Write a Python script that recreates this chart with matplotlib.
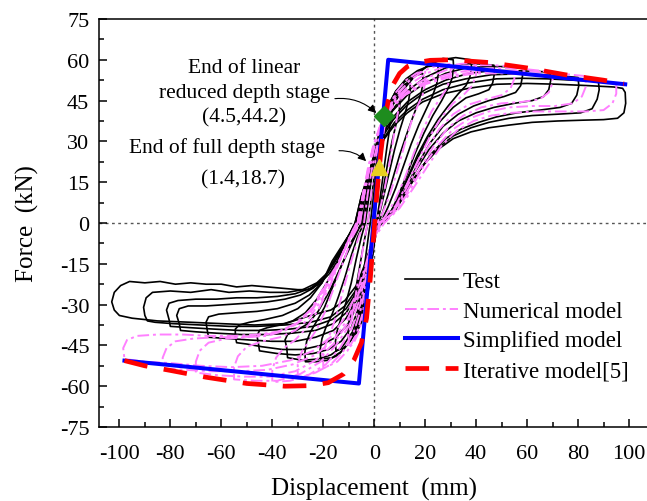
import matplotlib
matplotlib.use("Agg")
import matplotlib.pyplot as plt
from matplotlib.ticker import MultipleLocator

plt.rcParams['font.family'] = ['Liberation Serif', 'DejaVu Serif']
plt.rcParams['axes.unicode_minus'] = False

# ---- test loops, (displacement mm, force kN) ----
test_1 = [(0, 0), (1, 10), (2, 19), (3, 27), (4, 33), (5, 37), (6, 40),
          (6.2, 37), (5.8, 33), (5, 28), (4, 21), (3, 14), (2, 7), (1, 1),
          (0, -6), (-1, -14), (-2, -22), (-3, -28), (-4, -32), (-5, -34.5), (-6, -36),
          (-6.2, -33), (-5.8, -29), (-5, -24), (-4, -17), (-3, -10), (-2, -3), (-1.5, 0)]
test_2 = [(-1.5, 0), (-0.5, 8), (0.5, 16), (1.5, 24), (3, 33), (4.5, 39), (6, 43), (8, 46.5), (10, 48),
          (10.2, 45), (9.8, 41), (8.5, 36), (7, 30), (5.5, 23), (4, 15), (2.5, 7), (1, 0),
          (0, -7), (-1, -15), (-2, -23), (-3.5, -31), (-5, -36.5), (-7, -40.5), (-8.5, -42), (-10, -43),
          (-10.2, -39.5), (-9.7, -35.5), (-8.5, -30), (-7, -23), (-5.5, -15), (-4, -7), (-2.5, 0)]
test_3 = [(-2.5, 0), (-1, 10), (0.5, 20), (2, 29), (4, 37), (6, 43), (8.5, 47.5), (11, 50.5), (14, 52),
          (14.2, 49), (13.5, 45), (12, 40), (10, 34), (8, 27), (6, 19), (4, 11), (2, 3), (1, 0),
          (0, -7), (-1.5, -17), (-3, -26), (-5, -34), (-7, -39.5), (-9.5, -43.5), (-12, -46), (-15, -47),
          (-15.2, -43.5), (-14.5, -39.5), (-13, -35), (-11, -29), (-9, -22), (-7, -13), (-5, -5), (-3.5, 0)]
test_4 = [(-3.5, 0), (-2, 10), (-0.5, 20), (1, 28), (3, 36), (5.5, 43), (8.5, 48.5), (12, 52), (15.5, 54), (19, 55),
          (19.2, 52), (18.5, 48), (17, 43.5), (15, 38.5), (12.5, 32), (10, 25), (7.5, 17), (5, 9), (3, 3), (1.5, 0),
          (0, -7), (-1.5, -17), (-3.5, -28), (-6, -37), (-9, -43), (-12.5, -47), (-16.5, -49.5), (-21, -50),
          (-21.2, -46.5), (-20.5, -42.5), (-19, -38.5), (-16.5, -33.5), (-14, -27), (-11.5, -20), (-9, -12),
          (-6.5, -5), (-4, 0)]
test_5 = [(-4, 0), (-2.5, 10), (-1, 19), (0.5, 28), (2.5, 35), (5, 42.5), (8.5, 48.5), (12.5, 53), (17, 56),
          (21, 57.5), (25, 58),
          (25.2, 55), (24.5, 51), (23, 47), (20.5, 42), (17.5, 36), (14.5, 29), (11.5, 21), (8.5, 13),
          (5.5, 6), (3, 1), (1.5, 0),
          (0, -6), (-2, -17), (-4, -28), (-6.5, -37), (-10, -44), (-14, -48.5), (-18.5, -50.5), (-23, -51),
          (-27, -51),
          (-27.2, -47.5), (-26.5, -43.5), (-25, -40), (-22.5, -36), (-19.5, -31), (-16.5, -24), (-13, -16),
          (-9, -8), (-6, -2), (-4.5, 0)]
test_6 = [(-4.5, 0), (-2.5, 10), (-0.5, 20), (1.5, 29), (4, 37), (8, 45), (12.5, 51), (17.5, 55.5),
          (23, 59), (27, 60.5), (31, 60),
          (31.2, 57), (30.5, 53), (29, 49.5), (26.5, 45), (23, 39.5), (19.5, 33), (16, 25.5), (12.5, 17),
          (9, 9), (6, 3), (3, 0),
          (1, -3), (-1, -12), (-3, -22), (-5.5, -32), (-8.5, -40), (-12.5, -45.5), (-17, -48.5), (-22, -50),
          (-28, -50.5), (-34, -49.5),
          (-34.3, -46), (-35, -43), (-34, -41), (-30.5, -39.5), (-26, -37), (-22, -32.5), (-17.5, -25),
          (-13, -16), (-9, -7), (-5, 0)]
test_7 = [(-5, 0), (-3, 10), (-1, 20), (1, 28), (3.5, 36), (7, 43), (11, 48.5), (15.5, 53.5), (20.5, 57.5),
          (26, 60), (32, 60.8), (38, 60),
          (38.2, 57), (37.5, 53.5), (36, 50.5), (33, 47.5), (29, 43), (25, 38), (21, 32), (17, 25), (13, 16.5),
          (9, 8), (5, 2), (2, 0),
          (0.5, -4), (-1.5, -13), (-3.5, -22), (-6, -31), (-9, -38.5), (-13, -43.5), (-18, -46.5), (-24, -48),
          (-31, -48.5), (-38, -48), (-45, -47),
          (-45.5, -44), (-46, -41.5), (-45, -39.5), (-42, -38.5), (-37, -37.5), (-32, -36), (-27, -33),
          (-22.5, -28), (-18, -21), (-13.5, -12.5), (-9, -4), (-6, 0)]
test_8 = [(-6, 0), (-3.5, 10), (-1.2, 20), (1, 28), (3.5, 35), (7.5, 42), (13, 48.5), (20, 53.5),
          (28, 57), (35, 58.5), (41, 58.5), (47, 58),
          (47.2, 55), (46.5, 51.5), (45, 49), (41, 47.5), (36, 46), (31, 42.5), (26, 37.5), (21, 31),
          (16.5, 23), (12, 14), (8, 6), (4, 1), (2, 0),
          (0.5, -4), (-1.5, -12), (-4, -22), (-7, -31), (-10.5, -37.5), (-15, -42), (-21, -45), (-28, -46.5),
          (-36, -46.5), (-44, -45.5), (-50, -44.5), (-54, -44),
          (-54.5, -41.5), (-54.5, -39), (-53, -37.5), (-49, -36.5), (-43, -35.5), (-36, -34), (-30, -31.5),
          (-25, -27.5), (-20.5, -22), (-16.5, -14), (-11, -6), (-6.5, 0)]
test_9 = [(-6.5, 0), (-4, 10), (-1.5, 20), (0.5, 27.5), (3, 34), (7, 41), (13, 47), (20, 51.5), (28, 55),
          (36, 57), (44, 57.5), (51, 57.5), (58, 57),
          (58.2, 54), (57.5, 50.5), (55.5, 48), (51, 46.5), (45, 45), (39, 43), (33, 40), (27, 35.5),
          (22, 29.5), (17, 21.5), (12.5, 13), (8, 5.5), (4, 1), (2, 0),
          (0.5, -3), (-1.5, -11), (-4, -20), (-7, -28.5), (-11, -35), (-16, -39.5), (-23, -42), (-31, -43.5),
          (-40, -43.5), (-49, -43), (-57, -42.5), (-65, -42),
          (-65.5, -39.5), (-66, -36.5), (-65, -34.5), (-61, -33.5), (-54, -33), (-46, -32.5), (-38, -31.5),
          (-31, -29.5), (-25.5, -26.5), (-20.5, -22), (-16.5, -15), (-11.5, -7), (-7, 0)]
test_10 = [(-7, 0), (-4.5, 10), (-1.5, 20), (0.5, 26.5), (3.5, 33), (7.5, 39), (13, 44.5), (20, 49),
           (28, 52.5), (37, 55), (46, 56), (55, 56), (62, 55.8), (69, 55.5),
           (69.3, 52.5), (68.5, 49), (66.5, 46.5), (62, 45), (55, 44), (47, 42.5), (40, 40.5), (33, 37.5),
           (27, 33), (21.5, 27), (16.5, 19.5), (12, 12), (8, 5), (4, 1), (2, 0),
           (0.5, -3), (-1.5, -10), (-4, -19), (-7, -27), (-11, -33), (-16, -37), (-23, -39.5), (-32, -40.5),
           (-42, -41), (-52, -41), (-62, -40.5), (-70, -40), (-76, -39.5),
           (-76.5, -37), (-77.5, -34), (-76.5, -31.5), (-73, -30.5), (-66, -30.5), (-58, -30), (-50, -29.5),
           (-42, -29), (-35, -28), (-29, -26.5), (-24, -24), (-19.5, -20), (-15.5, -14), (-11.5, -7), (-7, 0)]
test_11 = [(-7, 0), (-4.5, 10), (-1.5, 20), (0.5, 26), (3.5, 32), (7.5, 38), (12.5, 43), (19, 47.5),
           (27, 51), (36, 53), (46, 54.5), (56, 54.8), (66, 54.5), (74, 54), (80, 53.5),
           (80.3, 50.5), (79.5, 47), (77.5, 44), (73, 42.5), (65, 41.5), (56, 40.5), (48, 39), (41, 37),
           (34, 34.5), (28, 31), (22.5, 25.5), (17.5, 19), (13, 12), (8.5, 5), (4.5, 1), (2, 0),
           (0.5, -3), (-1.5, -10), (-4, -18), (-7, -25.5), (-11, -31.5), (-16.5, -35.5), (-24, -38), (-33, -39),
           (-43, -39.5), (-53, -39.5), (-63, -39), (-72, -38.5), (-80, -38),
           (-80.5, -35.5), (-81.5, -32), (-80.5, -29.5), (-77, -28.5), (-70, -28), (-62, -28), (-54, -27.5),
           (-46, -27.5), (-38, -27), (-31, -26), (-25, -24), (-20, -20.5), (-16, -15), (-11.5, -7.5), (-7.5, 0)]
test_12 = [(-7.5, 0), (-5, 10), (-1.5, 20), (1, 26), (4, 31.5), (8, 37), (13, 41.5), (19, 45.5), (27, 49),
           (37, 51.5), (48, 53), (58, 53.2), (68, 53), (78, 52.5), (88, 52),
           (88.3, 49), (87.5, 45.5), (85.5, 42), (81, 40.5), (72, 40), (62, 39.5), (53, 38.5), (45, 37),
           (38, 35), (31, 32), (25, 27.5), (19.5, 21.5), (14.5, 14.5), (10, 7.5), (5.5, 2), (2, 0),
           (0.5, -3), (-1.5, -9), (-4, -17), (-7, -24.5), (-11.5, -30.5), (-17, -34.5), (-25, -36.5),
           (-35, -37.5), (-46, -38), (-57, -38), (-68, -37.5), (-79, -37), (-86, -36.5), (-89, -36),
           (-90, -34), (-90.5, -31), (-89.5, -27.5), (-87, -25.5), (-80, -25), (-72, -25.5), (-64, -24.5),
           (-57, -25.5), (-49, -25), (-41, -25.5), (-34, -25.5), (-28, -24.5), (-22.5, -22), (-18, -18),
           (-14, -12), (-10.5, -5.5), (-7.5, 0)]
test_13 = [(-7.5, 0), (-5, 10), (-1.5, 20), (1, 25.5), (4, 31), (8, 36), (13, 40.5), (19, 44.5), (27, 47.5),
           (37, 49.5), (48, 51), (60, 51.3), (72, 51), (84, 50.5), (94, 50), (97.5, 49.5),
           (98.5, 48), (98.7, 44), (98, 40.5), (95.5, 38.5), (90, 38), (82, 37.8), (72, 37.5), (62, 37),
           (53, 36), (45, 35), (38, 33.5), (31, 31), (25, 27), (19.5, 21.5), (14.5, 15), (10, 8.5), (6, 3),
           (2.5, 0),
           (0.5, -3), (-1.5, -9), (-4, -16), (-7, -23), (-11.5, -28.5), (-17, -32), (-25, -34), (-35, -37),
           (-47, -37.5), (-60, -37), (-72, -36.5), (-85, -36), (-95, -35), (-100, -34),
           (-102, -32), (-103, -29), (-102, -25.5), (-99.5, -23), (-96, -21.5), (-90, -22), (-84, -21.5),
           (-78, -22.5), (-72, -22), (-66, -22.5), (-60, -22.5), (-54, -23.5), (-48, -23), (-42, -23.5),
           (-36, -24), (-30, -24.5), (-26, -24.5), (-21.5, -22.5), (-17.5, -18.5), (-14.5, -14),
           (-11, -7), (-8, -1)]

# ---- numerical model loops ----
num_1 = [(0, 0), (1, 14), (2.5, 26), (4, 35), (6, 42), (8, 46.5), (10, 48.5),
         (10, 44), (9, 39), (7.5, 31), (6, 22), (4, 12), (2, 4), (0.5, 0),
         (-1, -12), (-2.5, -24), (-4, -33), (-6, -40), (-8, -44), (-10, -46),
         (-10, -41.5), (-9, -36), (-7.5, -28), (-6, -19), (-4.5, -10), (-3, -2), (-2.5, 0)]
num_2 = [(-2.5, 0), (-1, 12), (0.5, 23), (2.5, 33), (5, 41), (8.5, 48), (12.5, 52.5), (16.5, 55), (20, 56),
         (20, 51.5), (19, 47), (17, 43), (14.5, 37), (12, 29), (9, 19), (6, 10), (3, 3), (1, 0),
         (-1, -10), (-2.5, -22), (-4.5, -33), (-7, -41), (-10.5, -47), (-14.5, -51), (-20, -53.5),
         (-20, -49), (-19, -44.5), (-17, -40), (-14.5, -33), (-12, -24), (-9, -14), (-6, -5), (-4, 0)]
num_3 = [(-4, 0), (-2.5, 11), (-0.5, 22), (2, 32), (5, 40), (9, 47), (14, 52.5), (19.5, 56), (25, 58), (30, 58.5),
         (30, 54), (28.5, 49.5), (26, 46), (22.5, 41), (19, 34), (15.5, 25.5), (12, 16.5), (8, 8), (4, 2), (1, 0),
         (-1, -9), (-3, -21), (-5, -31), (-8, -40), (-12, -47), (-17, -52), (-23, -55), (-30, -57),
         (-30, -52), (-28.5, -47.5), (-26, -44), (-22.5, -39), (-19, -32), (-15.5, -23), (-12, -14),
         (-8.5, -5), (-5.5, 0)]
num_4 = [(-5.5, 0), (-4, 10), (-2, 20), (0.5, 30), (4, 38.5), (8.5, 45.5), (14, 51), (20.5, 55), (27.5, 57.5),
         (34, 58.5), (40, 59),
         (40, 54.5), (38.5, 50.5), (35.5, 47.5), (31, 44), (26.5, 39), (22, 32), (17.5, 23.5), (13, 14.5),
         (8.5, 6.5), (4.5, 1.5), (1.5, 0),
         (-1, -8), (-3, -19), (-5.5, -30), (-9, -39), (-13.5, -46), (-19, -52), (-26, -56), (-33, -58),
         (-40, -58.5),
         (-40, -54), (-38.5, -49.5), (-35.5, -46), (-31, -43), (-26.5, -38.5), (-22, -32), (-17.5, -23.5),
         (-13.5, -14), (-10, -6), (-6.5, 0)]
num_5 = [(-6.5, 0), (-4.5, 10), (-2.5, 20), (0, 29), (3, 37), (7.5, 44), (13.5, 49.5), (21, 53.5), (29, 56.5),
         (38, 58), (47, 58), (55, 57.5),
         (55, 53), (53.5, 49.5), (50, 47), (44, 45.5), (37, 43.5), (31, 40), (25.5, 34.5), (20.5, 27),
         (15.5, 18), (10.5, 9), (6, 2.5), (2, 0),
         (-1, -8), (-3, -18), (-6, -29), (-10, -38), (-15, -45), (-21, -51), (-29, -55.5), (-38, -58),
         (-47, -58), (-55, -57.5),
         (-55, -53), (-53.5, -49), (-50, -45.5), (-44, -43.5), (-37, -42), (-31, -39.5), (-25.5, -35),
         (-20.5, -28), (-16, -19), (-11.5, -9.5), (-8, -2), (-6.5, 0)]
num_6 = [(-6.5, 0), (-4.5, 10), (-2.5, 19), (-0.5, 28), (2.5, 36), (7, 43), (13.5, 48.5), (21, 52.5), (30, 55),
         (40, 56.5), (50, 57), (60, 56.5), (70, 55.5),
         (70, 51.5), (68.5, 48), (65, 45.5), (58, 44.5), (50, 44), (42, 42.5), (35, 39.5), (29, 35),
         (23.5, 28.5), (18, 20), (12.5, 11), (7, 3.5), (2.5, 0),
         (-1, -8), (-3.5, -18), (-6.5, -28), (-10.5, -37), (-16, -44.5), (-23, -50.5), (-31, -54.5),
         (-41, -56.5), (-51, -56.5), (-61, -56), (-70, -55),
         (-70, -51), (-68.5, -47), (-65, -44), (-58, -42.5), (-50, -42), (-42, -41.5), (-35, -39.5),
         (-29, -36), (-23.5, -30.5), (-18.5, -22), (-13, -12.5), (-8.5, -4), (-6, 0)]
num_7 = [(-6, 0), (-4, 10), (-2, 19), (0, 28), (2.5, 35.5), (6.5, 42), (12.5, 47.5), (20, 51.5), (29, 54),
         (39, 55.5), (50, 56), (61, 55.8), (72, 55), (83, 54),
         (83, 50), (81.5, 46.5), (78, 44), (71, 43), (62, 43), (53, 42.5), (45, 41), (37.5, 38.5), (31, 34.5),
         (25, 28.5), (19.5, 21), (14, 12), (8.5, 4.5), (3, 0),
         (-1, -7), (-3.5, -17), (-6.5, -27), (-10.5, -35.5), (-16, -43), (-23, -48.5), (-32, -52), (-42, -54),
         (-53, -54.5), (-64, -54.5), (-74, -54), (-83, -53.5),
         (-83, -49.5), (-81.5, -46), (-78, -43.5), (-71, -42.5), (-62, -42), (-53, -42), (-45, -41.5),
         (-37.5, -40), (-31, -37), (-25, -32), (-20, -24), (-14, -14.5), (-9.5, -5), (-6.5, 0)]
num_8 = [(-6.5, 0), (-4.5, 10), (-2.5, 19), (-0.5, 27.5), (2, 35), (6, 41.5), (12, 47), (20, 51), (29, 53.5),
         (40, 55), (52, 55), (64, 54.5), (75, 53.5), (86, 52.5), (95, 51.5),
         (95, 47.5), (93.5, 44), (90, 41.5), (83, 41), (73, 41), (63, 41), (54, 40.5), (46, 39.5), (39, 37.5),
         (32.5, 34), (26.5, 28.5), (21, 21), (15.5, 13), (10, 5.5), (4, 0),
         (-1, -7), (-3.5, -16), (-7, -26), (-11, -34), (-16.5, -41.5), (-24, -47), (-33, -50.5), (-44, -52.5),
         (-56, -53), (-68, -52.5), (-80, -51.5), (-90, -51), (-98, -50),
         (-98.5, -46), (-97, -43), (-93, -41.5), (-85, -41), (-75, -41), (-65, -41.5), (-55, -41.5),
         (-46, -41), (-38, -40), (-31, -37.5), (-25, -33), (-20, -25.5), (-14.5, -16), (-10, -6),
         (-7, 0)]

# ---- skeleton models ----
simp_x = [-98, -6, 5.5, 98.5]
simp_y = [-50.6, -59, 60, 51]
iter_x = [-98, -90, -80, -66, -50, -35, -25, -18, -12, -8, -5, -3, -1.5, -0.2, 1, 2.5, 4, 5.5, 7.5,
          10, 13, 17, 22, 30, 45, 60, 75, 90, 98]
iter_y = [-50.6, -52.5, -54.2, -56.7, -59, -60, -59.8, -58.7, -55.5, -50.5, -44, -35, -20, -5, 10,
          25, 37, 45, 51, 55, 57.5, 59, 59.8, 60, 59, 57, 54.5, 52.5, 51.2]

# ---- stage points ----
full_pt = (1.7, 20.5)
lin_pt = (3.7, 39.4)

test_cycles = [test_1, test_2, test_3, test_4, test_5, test_6, test_7, test_8, test_9,
               test_10, test_11, test_12, test_13]
num_cycles = [num_1, num_2, num_3, num_4, num_5, num_6, num_7, num_8]

fig = plt.figure(figsize=(6.47, 5.02), dpi=100)
ax = fig.add_axes([0.153, 0.1474, 0.8507, 0.8128])

ax.axhline(0, color='#555555', lw=1.0, ls=(0, (2, 2.5)), zorder=1)
ax.axvline(0, color='#555555', lw=1.0, ls=(0, (2, 2.5)), zorder=1)

for i, c in enumerate(test_cycles):
    xs = [p[0] for p in c]
    ys = [p[1] for p in c]
    ax.plot(xs, ys, color='black', lw=1.2, zorder=2, label='Test' if i == 0 else None)

for i, c in enumerate(num_cycles):
    xs = [p[0] for p in c]
    ys = [p[1] for p in c]
    ax.plot(xs, ys, color='#FF80FF', lw=1.4, ls=(0, (6, 2, 1.5, 2)), zorder=3,
            label='Numerical model' if i == 0 else None)

ax.plot(simp_x, simp_y, color='#0000FF', lw=2.9, zorder=4, label='Simplified model')
ax.plot(iter_x, iter_y, color='#FF0000', lw=3.4, ls=(0, (5, 3.5)), zorder=5, label='Iterative model[5]')

ax.plot(*full_pt, marker='^', ms=11, color='#E8D020', mec='#E8D020', zorder=6)
ax.plot(*lin_pt, marker='D', ms=10, color='#1E8C1E', mec='#1E8C1E', zorder=6)

ax.text(-51, 48.0, 'End of linear\nreduced depth stage\n(4.5,44.2)', fontsize=15.5,
        ha='center', va='center', linespacing=1.42)
ax.text(-57.6, 27.9, 'End of full depth stage', fontsize=15.5, ha='center', va='center')
ax.text(-51.6, 16.2, '(1.4,18.7)', fontsize=15.5, ha='center', va='center')
ax.annotate('', xy=(1.6, 39.7), xytext=(-16.5, 45.6),
            arrowprops=dict(arrowstyle='-|>', color='black', lw=0.8, mutation_scale=12,
                            connectionstyle='arc3,rad=-0.25'))
ax.annotate('', xy=(-2.4, 22), xytext=(-14.9, 26.5),
            arrowprops=dict(arrowstyle='-|>', color='black', lw=0.8, mutation_scale=12,
                            connectionstyle='arc3,rad=-0.25'))

ax.set_xlim(-108, 108)
ax.set_ylim(-75, 75)
ax.xaxis.set_major_locator(MultipleLocator(20))
ax.xaxis.set_minor_locator(MultipleLocator(10))
ax.yaxis.set_major_locator(MultipleLocator(15))
ax.yaxis.set_minor_locator(MultipleLocator(7.5))
ax.tick_params(which='both', direction='in', top=False, right=False, width=1.1, labelsize=16)
ax.tick_params(which='major', length=6)
ax.tick_params(axis='x', which='major', pad=12)
ax.tick_params(axis='y', which='major', pad=7)
ax.tick_params(which='minor', length=3.5)
for s in ax.spines.values():
    s.set_linewidth(1.1)
ax.spines['right'].set_visible(False)

ax.set_xlabel('Displacement  (mm)', fontsize=18, labelpad=10)
ax.set_ylabel('Force  (kN)', fontsize=18, labelpad=15)

ax.legend(loc='upper left', bbox_to_anchor=(0.54, 0.405), frameon=False, fontsize=16.5,
          handlelength=2.3, handletextpad=0.2, labelspacing=0.38, borderaxespad=0)

fig.savefig('out.png', dpi=100)
